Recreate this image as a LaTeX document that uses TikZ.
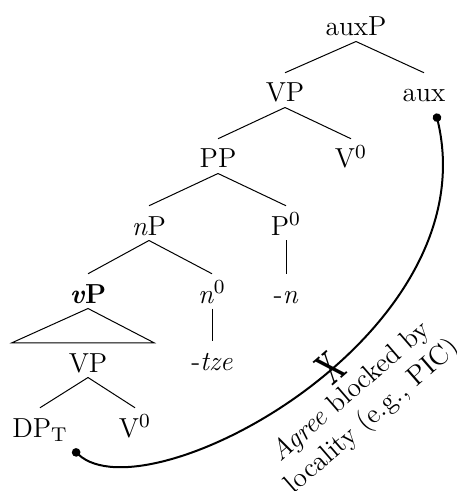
\documentclass[tikz,border=0pt]{standalone}
\usepackage{graphicx}
\usetikzlibrary{arrows.meta}
\begin{document}
\begin{tikzpicture}[
    x=0.4pt, y=-0.4pt,
    font=\fontsize{11}{13}\selectfont,
    cat/.style={anchor=base, inner sep=0pt, text height=11.5pt, text depth=2pt},
    branch/.style={line width=0.4pt},
    agree/.style={{Circle[length=3.4pt]}-{Circle[length=3.4pt]}, line width=0.8pt},
]
\useasboundingbox (0,0) rectangle (457,491);

% Upper spine
\node[cat] (auxP) at (356,36) {auxP};
\node[cat] (VPhi) at (285,102) {VP};
\node[cat] (aux) at (424,102) {aux};
\node[cat] (PP) at (218,168) {PP};
\node[cat] (Vhi) at (351,168) {V$^0$};
\node[cat] (nP) at (149,235) {\textit{n}P};
\node[cat] (P0) at (286,235) {P$^0$};

% Lower part
\node[cat] (vP) at (88,303) {\textbf{\textit{v}P}};
\node[cat] (n0) at (212,303) {\textit{n}$^0$};
\node[cat] (naff) at (286,303) {-\textit{n}};
\node[cat] (tze) at (212,370) {-\textit{tze}};
\node[cat] (VPlo) at (88,372) {VP};
\node[cat] (DPT) at (40,437) {DP$_\mathrm{T}$};
\node[cat] (Vlo) at (135,437) {V$^0$};

% Branches
\draw[branch] (auxP.south) -- (VPhi.north);
\draw[branch] (auxP.south) -- (aux.north);
\draw[branch] (VPhi.south) -- (PP.north);
\draw[branch] (VPhi.south) -- (Vhi.north);
\draw[branch] (PP.south) -- (nP.north);
\draw[branch] (PP.south) -- (P0.north);
\draw[branch] (nP.south) -- (vP.north);
\draw[branch] (nP.south) -- (n0.north);
\draw[branch] (P0.south) -- (naff.north);
\draw[branch] (n0.south) -- (tze.north);
\draw[branch] (VPlo.south) -- (DPT.north);
\draw[branch] (VPlo.south) -- (Vlo.north);

% Triangle
\draw[branch] (vP.south) -- ([xshift=-30.4pt]VPlo.north) -- ([xshift=26.4pt]VPlo.north) -- cycle;

% Agree
\draw[agree] ([shift={(33,7)}]DPT.south) .. controls +(74,68) and +(53,223) .. ([shift={(12,6)}]aux.south)
    node[pos=0.555, sloped] (cross) {\scalebox{0.58}[1.05]{\LARGE\bfseries X}}
    node[pos=0.555, sloped, below=4pt, align=center] (note) {\textit{Agree} blocked by\\locality (e.g., PIC)};
\end{tikzpicture}
\end{document}
